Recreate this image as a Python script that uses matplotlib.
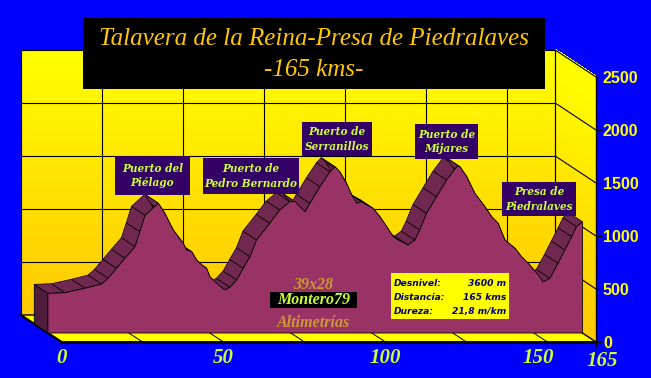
import numpy as np
import matplotlib
matplotlib.use("Agg")
import matplotlib.pyplot as plt
from matplotlib.patches import Polygon, Rectangle
from matplotlib.colors import LinearSegmentedColormap
from matplotlib.transforms import IdentityTransform, offset_copy, Affine2D

# Perfil: km y altitud (m)
km = [0, 5.3, 11.5, 16.6, 18.6, 21.2, 23.8, 26.9, 28.4, 30.0, 34.1, 36.1, 38.7, 41.8,
      42.8, 44.4, 45.9, 47.5, 49.0, 50.0, 52.1, 54.6, 56.2, 58.3, 60.3, 62.4, 64.4,
      68.5, 71.6, 74.7, 76.3, 79.4, 80.9, 84.0, 87.1, 88.6, 90.1, 92.2, 93.8, 95.3,
      96.9, 98.4, 100.4, 102.5, 104.6, 106.6, 108.2, 111.2, 113.3, 114.8, 116.9,
      120.0, 123.1, 126.2, 127.2, 129.3, 131.8, 134.9, 137.0, 139.0, 141.1, 144.2,
      146.2, 148.3, 151.4, 152.9, 155.0, 157.5, 159.6, 161.7, 163.2, 165]
alt = [374, 380, 422, 462, 516, 610, 705, 814, 955, 1110, 1224, 1129, 972, 846,
       783, 767, 689, 642, 610, 531, 469, 406, 431, 500, 610, 720, 877,
       1035, 1160, 1239, 1239, 1144, 1224, 1380, 1522, 1569, 1522, 1412, 1302, 1224,
       1239, 1208, 1176, 1097, 1003, 908, 877, 830, 877, 972, 1129,
       1286, 1443, 1569, 1569, 1475, 1318, 1192, 1097, 1035, 877, 799,
       720, 657, 547, 481, 516, 657, 783, 908, 1003, 1050]

x_ticks = [0, 50, 100, 150, 165]
y_ticks = [0, 500, 1000, 1500, 2000, 2500]

titulo = "Talavera de la Reina-Presa de Piedralaves"
subtitulo = "-165 kms-"
puertos = ["Puerto del\nPiélago", "Puerto de\nPedro Bernardo", "Puerto de\nSerranillos",
           "Puerto de\nMijares", "Presa de\nPiedralaves"]
info_nombres = ["Desnivel:", "Distancia:", "Dureza:"]
info_valores = ["3600 m", "165 kms", "21,8 m/km"]

W, H = 651, 378
KM_MAX, ALT_MAX = 165, 2500
DX, DY = -40.8, 27.0     # desplazamiento de profundidad (pixel)

fig = plt.figure(figsize=(W / 100, H / 100), dpi=100)
fig.patch.set_facecolor("#0000FF")
ax = fig.add_axes([61.5 / W, 36 / H, 534.5 / W, 265 / H])
ax.patch.set_visible(False)
ax.set_xlim(0, KM_MAX)
ax.set_ylim(0, ALT_MAX)

def P(x, y, f):
    px, py = ax.transData.transform((x, y))
    return (px + DX * f, py + DY * f)

def poly(pts, **kw):
    p = Polygon(pts, closed=True, transform=IdentityTransform(), clip_on=False, **kw)
    ax.add_patch(p)
    return p

def line(a, b, **kw):
    ax.plot([a[0], b[0]], [a[1], b[1]], transform=IdentityTransform(), clip_on=False, **kw)

cmap = LinearSegmentedColormap.from_list("pared", ["#FFC800", "#FFFF00"])

# pared del fondo
back_tr = offset_copy(ax.transData, fig=fig, x=DX, y=DY, units="dots")
grad = np.linspace(0, 1, 256).reshape(-1, 1)
ax.imshow(grad, cmap=cmap, origin="lower", extent=(0, KM_MAX, 0, ALT_MAX),
          aspect="auto", transform=back_tr, zorder=1, clip_on=False)
ax.set_xlim(0, KM_MAX)
ax.set_ylim(0, ALT_MAX)
poly([P(0, 0, 1), P(KM_MAX, 0, 1), P(KM_MAX, ALT_MAX, 1), P(0, ALT_MAX, 1)],
     facecolor="none", edgecolor="black", lw=0.8, zorder=2)
for v in y_ticks[1:-1]:
    line(P(0, v, 1), P(KM_MAX, v, 1), color="black", lw=0.8, zorder=2)
for k in range(25, KM_MAX, 25):
    line(P(k, 0, 1), P(k, ALT_MAX, 1), color="black", lw=0.8, zorder=2)

# pared derecha
n = 40
for j in range(n):
    v0, v1 = ALT_MAX * j / n, ALT_MAX * (j + 1) / n
    c = cmap(j / (n - 1))
    poly([P(KM_MAX, v0, 1), P(KM_MAX, v1 + 8, 1), P(KM_MAX, v1 + 8, 0), P(KM_MAX, v0, 0)],
         facecolor=c, edgecolor="none", antialiased=False, zorder=1)
for v in y_ticks[1:]:
    line(P(KM_MAX, v, 1), P(KM_MAX, v, 0), color="black", lw=0.8, zorder=2)
line(P(KM_MAX, 0, 1), P(KM_MAX, ALT_MAX, 1), color="black", lw=0.8, zorder=2)

# suelo
poly([P(0, 0, 0), P(KM_MAX, 0, 0), P(KM_MAX, 0, 1), P(0, 0, 1)],
     facecolor="#FFFF00", edgecolor="black", lw=1.0, zorder=2)
line(P(0, 0, 0), P(0, 0, 1), color="black", lw=1.6, zorder=3)
for k in range(25, KM_MAX, 25):
    line(P(k, 0, 0), P(k, 0, 1), color="black", lw=0.7, zorder=3)

# area 3D
f0, f1 = 1 / 3, 2 / 3
poly([P(0, 0, f0), P(0, alt[0], f0), P(0, alt[0], f1), P(0, 0, f1)],
     facecolor="#4F1D3B", edgecolor="black", lw=0.6, zorder=4)
for i in range(len(km) - 1):
    poly([P(km[i], alt[i], f0), P(km[i + 1], alt[i + 1], f0),
          P(km[i + 1], alt[i + 1], f1), P(km[i], alt[i], f1)],
         facecolor="#702850", edgecolor="black", lw=0.5, zorder=5)
front = [P(0, 0, f0)] + [P(k, a, f0) for k, a in zip(km, alt)] + [P(KM_MAX, 0, f0)]
poly(front, facecolor="#993366", edgecolor="black", lw=0.6, zorder=6)

# ejes
for s in ["top", "left"]:
    ax.spines[s].set_visible(False)
ax.spines["bottom"].set_linewidth(1.8)
ax.spines["right"].set_linewidth(1.0)
for s in ["bottom", "right"]:
    ax.spines[s].set_zorder(7)
ax.set_xticks(x_ticks)
ax.set_xticklabels([str(t) for t in x_ticks], fontfamily="Liberation Serif",
                   fontstyle="italic", fontweight="bold", fontsize=15, color="#CCFF33")
ax.yaxis.tick_right()
ax.set_yticks(y_ticks)
ax.set_yticklabels([str(t) for t in y_ticks], fontfamily="Liberation Sans",
                   fontweight="bold", fontsize=11.5, color="#FFFF00")
ax.tick_params(axis="x", direction="out", length=4, width=0.8, color="black", pad=0)
ax.tick_params(axis="y", direction="out", length=4, width=0.8, color="black", pad=1)

# pequenos desplazamientos de las etiquetas 150 y 165 como en el original
desp = {150: (-9, 0), 165: (6, -3)}
for tick, val in zip(ax.xaxis.get_major_ticks(), x_ticks):
    if val in desp:
        dx, dy = desp[val]
        tick.label1.set_transform(tick.label1.get_transform() + Affine2D().translate(dx, dy))

# helpers en pixeles de la imagen
def fx(x):
    return x / W

def fy(y):
    return 1 - y / H

def caja(x0, y0, x1, y1, color):
    fig.patches.append(Rectangle((fx(x0), fy(y1)), (x1 - x0) / W, (y1 - y0) / H,
                                 transform=fig.transFigure, facecolor=color,
                                 edgecolor="none", zorder=10))

# titulo
caja(83, 18, 545, 89, "black")
fig.text(fx(314), fy(39), titulo, ha="center", va="center", fontfamily="Liberation Serif",
         fontstyle="italic", fontsize=18, color="#FFC800", zorder=11)
fig.text(fx(314), fy(70), subtitulo, ha="center", va="center", fontfamily="Liberation Serif",
         fontstyle="italic", fontsize=18, color="#FFC800", zorder=11)

# etiquetas de puertos
cajas = [(115, 156, 190, 195), (203, 158, 299, 194), (302, 122, 372, 156),
         (415, 124, 478, 159), (502, 182, 576, 216)]
for txt, (x0, y0, x1, y1) in zip(puertos, cajas):
    caja(x0, y0, x1, y1, "#330066")
    fig.text(fx((x0 + x1) / 2), fy((y0 + y1) / 2), txt, ha="center", va="center",
             fontfamily="DejaVu Serif", fontstyle="italic", fontweight="bold",
             fontsize=7.6, color="#CCFF33", linespacing=1.35, zorder=11)

# cuadro de datos
caja(391, 273, 509, 319, "#FFFF00")
for i, (a, b) in enumerate(zip(info_nombres, info_valores)):
    yy = 283.5 + 14 * i
    fig.text(fx(394), fy(yy), a, ha="left", va="center", fontfamily="DejaVu Sans",
             fontstyle="italic", fontweight="bold", fontsize=6.6, color="#000066", zorder=11)
    fig.text(fx(506), fy(yy), b, ha="right", va="center", fontfamily="DejaVu Sans",
             fontstyle="italic", fontweight="bold", fontsize=6.6, color="#000066", zorder=11)

# firma
fig.text(fx(313), fy(285), "39x28", ha="center", va="center", fontfamily="Liberation Serif",
         fontstyle="italic", fontweight="bold", fontsize=11.5, color="#CC9933", zorder=11)
caja(270, 292, 357, 308, "black")
fig.text(fx(313.5), fy(300.5), "Montero79", ha="center", va="center",
         fontfamily="Liberation Serif", fontstyle="italic", fontweight="bold",
         fontsize=11.5, color="#CCFF33", zorder=11)
fig.text(fx(313), fy(323), "Altimetrías", ha="center", va="center",
         fontfamily="Liberation Serif", fontstyle="italic", fontweight="bold",
         fontsize=11.5, color="#CC9933", zorder=11)

fig.savefig("out.png", dpi=100, facecolor=fig.get_facecolor())
